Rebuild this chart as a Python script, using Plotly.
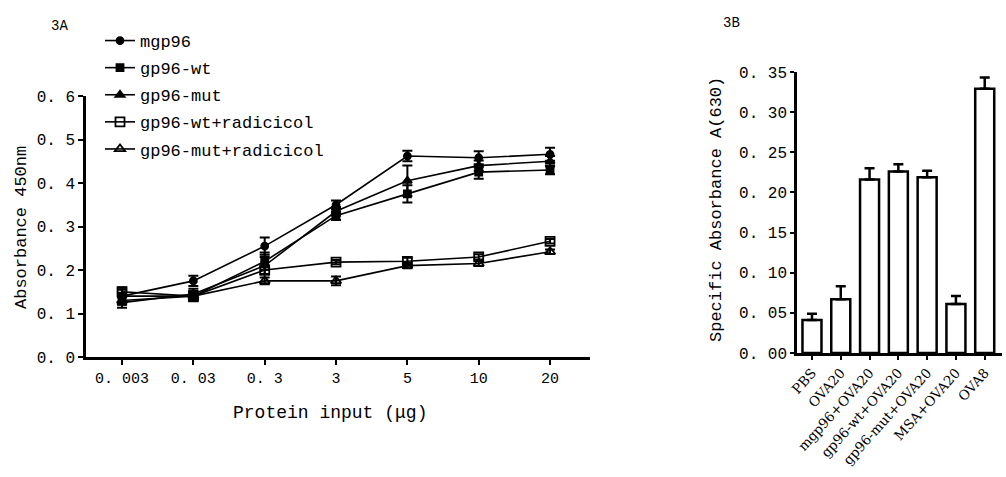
import plotly.graph_objects as go

# ---------------- Data: panel 3A ----------------
doses = ["0. 003", "0. 03", "0. 3", "3", "5", "10", "20"]
mgp96 = [0.14, 0.175, 0.255, 0.35, 0.462, 0.458, 0.466]
mgp96_err = [0.015, 0.012, 0.02, 0.01, 0.012, 0.015, 0.015]
gp96_wt = [0.14, 0.14, 0.22, 0.325, 0.375, 0.425, 0.43]
gp96_wt_err = [0.015, 0.012, 0.02, 0.01, 0.02, 0.015, 0.01]
gp96_mut = [0.125, 0.145, 0.21, 0.335, 0.405, 0.44, 0.45]
gp96_mut_err = [0.012, 0.012, 0.02, 0.01, 0.035, 0.012, 0.012]
wt_radicicol = [0.15, 0.14, 0.2, 0.218, 0.22, 0.23, 0.266]
wt_radicicol_err = [0.01, 0.01, 0.01, 0.005, 0.008, 0.006, 0.005]
mut_radicicol = [0.13, 0.14, 0.175, 0.175, 0.21, 0.215, 0.242]
mut_radicicol_err = [0.01, 0.01, 0.008, 0.01, 0.006, 0.006, 0.005]

series_names = ["mgp96", "gp96-wt", "gp96-mut", "gp96-wt+radicicol", "gp96-mut+radicicol"]
y_ticks = [0.0, 0.1, 0.2, 0.3, 0.4, 0.5, 0.6]
y_ticktext = ["0. 0", "0. 1", "0. 2", "0. 3", "0. 4", "0. 5", "0. 6"]

# ---------------- Data: panel 3B ----------------
groups = ["PBS", "OVA20", "mgp96+OVA20", "gp96-wt+OVA20", "gp96-mut+OVA20", "MSA+OVA20", "OVA8"]
specific_abs = [0.041, 0.067, 0.216, 0.226, 0.219, 0.061, 0.329]
specific_err = [0.008, 0.016, 0.014, 0.009, 0.008, 0.01, 0.014]
b_ticks = [0.0, 0.05, 0.10, 0.15, 0.20, 0.25, 0.30, 0.35]
b_ticktext = ["0. 00", "0. 05", "0. 10", "0. 15", "0. 20", "0. 25", "0. 30", "0. 35"]

MONO = "Liberation Mono"
SERIF = "DejaVu Serif"

fig = go.Figure()

values = [mgp96, gp96_wt, gp96_mut, wt_radicicol, mut_radicicol]
errors = [mgp96_err, gp96_wt_err, gp96_mut_err, wt_radicicol_err, mut_radicicol_err]
symbols = ["circle", "square", "triangle-up", "square-open", "triangle-up-open"]
sizes = [7, 7, 8, 9, 9]

for i, (name, v, e, s, sz) in enumerate(zip(series_names, values, errors, symbols, sizes)):
    fig.add_trace(go.Scatter(
        x=doses, y=v, name=name, mode="lines+markers",
        line=dict(color="black", width=1.6),
        marker=dict(symbol=s, size=sz, color="black", line=dict(color="black", width=1.8)),
        error_y=dict(type="data", array=e, color="black", thickness=2, width=5),
        xaxis="x", yaxis="y", legendgroup=f"g{i}", showlegend=True,
    ))

fig.add_trace(go.Bar(
    x=groups, y=specific_abs, showlegend=False,
    marker=dict(color="white", line=dict(color="black", width=2.5)),
    error_y=dict(type="data", symmetric=False, array=specific_err,
                 arrayminus=[0] * len(specific_err), color="black", thickness=2.5, width=5),
    xaxis="x2", yaxis="y2", width=0.66,
))

W, H = 1006, 477

def px(x):
    return x / W

def py(y):
    return (H - y) / H

axis_common = dict(showline=True, linecolor="black", linewidth=2.5, ticks="outside",
                   tickwidth=2, tickcolor="black", showgrid=False, zeroline=False,
                   automargin=False)

fig.update_layout(
    width=W, height=H,
    margin=dict(l=0, r=0, t=0, b=0, autoexpand=False),
    paper_bgcolor="white", plot_bgcolor="white",
    font=dict(family=MONO, color="black", size=14),
    xaxis=dict(domain=[px(86), px(590)], type="category", range=[-0.505, 6.56],
               ticklen=5, tickfont=dict(family=MONO, size=15), anchor="y", **axis_common),
    yaxis=dict(domain=[py(357), py(96)], range=[0, 0.6], tickvals=y_ticks, ticktext=y_ticktext,
               ticklen=5, tickfont=dict(family=MONO, size=16), anchor="x", **axis_common),
    xaxis2=dict(domain=[px(797), px(1002)], type="category", range=[-0.52, 6.6],
                ticklen=4, tickangle=-48, tickfont=dict(family=SERIF, size=13.5), anchor="y2",
                **axis_common),
    yaxis2=dict(domain=[py(353), py(72)], range=[0, 0.35], tickvals=b_ticks, ticktext=b_ticktext,
                ticklen=4, tickfont=dict(family=MONO, size=16), anchor="x2", **axis_common),
    legend=dict(x=px(100), y=py(23), xanchor="left", yanchor="top",
                bgcolor="rgba(0,0,0,0)", font=dict(family=MONO, size=17),
                traceorder="grouped", tracegroupgap=2, itemwidth=30),
    showlegend=True,
    annotations=[
        dict(text="3A", x=px(59), y=py(26), xref="paper", yref="paper", showarrow=False,
             xanchor="center", yanchor="middle", font=dict(family=MONO, size=14)),
        dict(text="3B", x=px(731), y=py(23), xref="paper", yref="paper", showarrow=False,
             xanchor="center", yanchor="middle", font=dict(family=MONO, size=14)),
        dict(text="Absorbance 450nm", x=px(21), y=py(228), xref="paper", yref="paper",
             showarrow=False, textangle=-90, xanchor="center", yanchor="middle",
             font=dict(family=MONO, size=17)),
        dict(text="Protein input (μg)", x=px(330), y=py(413), xref="paper", yref="paper",
             showarrow=False, xanchor="center", yanchor="middle",
             font=dict(family=MONO, size=18)),
        dict(text="Specific Absorbance A(630)", x=px(716), y=py(210), xref="paper", yref="paper",
             showarrow=False, textangle=-90, xanchor="center", yanchor="middle",
             font=dict(family=MONO, size=17)),
    ],
)

fig.write_html(
    "out.html",
    config={"displayModeBar": False},
    post_script="document.body.style.margin='0';document.body.style.overflow='hidden';",
)
